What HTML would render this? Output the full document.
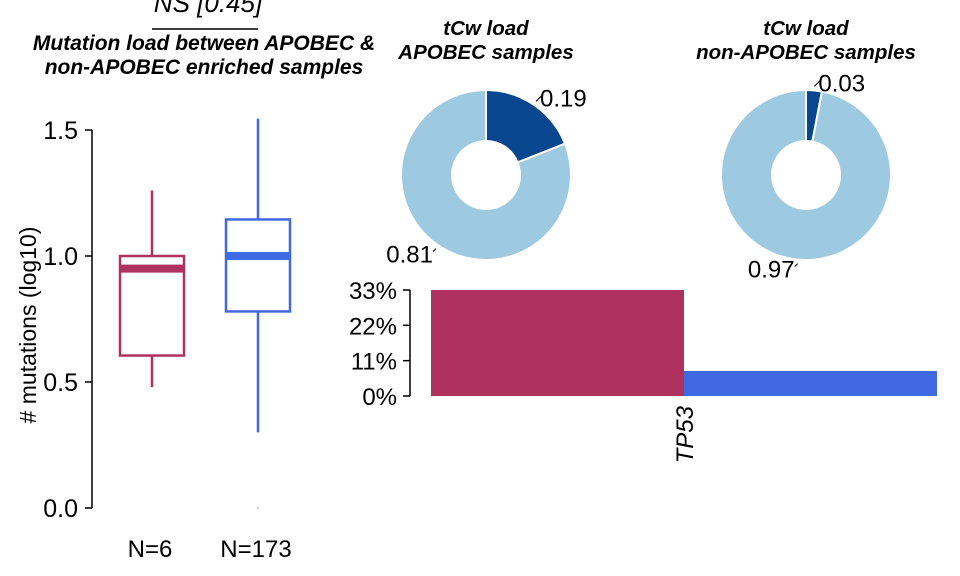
<!DOCTYPE html>
<html><head><meta charset="utf-8"><style>
body{margin:0;background:#fff;}
svg{display:block;font-family:"Liberation Sans",Arial,sans-serif;}
</style></head><body>
<svg id="c" width="960" height="576" viewBox="0 0 960 576"></svg>
<script>
const boxGroups=["N=6","N=173"];
const boxColors=["#AE315E","#4169E1"];
const boxWhiskerHigh=[1.26,1.545];
const boxQ3=[1.0,1.145];
const boxMedian=[0.95,1.0];
const boxQ1=[0.605,0.78];
const boxWhiskerLow=[0.48,0.30];
const yTicks=[0.0,0.5,1.0,1.5];
const yTickLabels=["0.0","0.5","1.0","1.5"];
const pieTitles=[["tCw load","APOBEC samples"],["tCw load","non-APOBEC samples"]];
const pieDark=[0.19,0.03];
const barCategories=["TP53"];
const barApobec=[33];
const barNonApobec=[7.8];
const barTicks=[0,11,22,33];

const svg=document.getElementById('c');
const NS="http://www.w3.org/2000/svg";
function mk(tag,attrs,parent){const e=document.createElementNS(NS,tag);for(const k in attrs)e.setAttribute(k,attrs[k]);(parent||svg).appendChild(e);return e;}
function txt(s,attrs,parent){const e=mk('text',attrs,parent);e.textContent=s;return e;}

// Box plot
const y0=508,yS=252;const Y=v=>y0-v*yS;
const X=i=>152+i*106;
let t=txt("NS [0.45]",{x:208,y:12,'font-size':26,'font-style':'italic','text-anchor':'middle'});

let l=mk('line',{x1:152,x2:258,y1:29,y2:29,stroke:'#000','stroke-width':1.5});

t=txt("Mutation load between APOBEC &",{x:204,y:50,'font-size':21,'font-weight':'bold','font-style':'italic','text-anchor':'middle'});

t=txt("non-APOBEC enriched samples",{x:204,y:74,'font-size':21,'font-weight':'bold','font-style':'italic','text-anchor':'middle'});

l=mk('line',{x1:92,x2:92,y1:Y(1.5),y2:Y(0),stroke:'#000','stroke-width':1.5});

yTicks.forEach((v,i)=>{
 const tk=mk('line',{x1:85,x2:92,y1:Y(v),y2:Y(v),stroke:'#000','stroke-width':1.5});
 
 const tl=txt(yTickLabels[i],{x:78,y:Y(v)+9,'font-size':25,'text-anchor':'end'});
 
});
t=txt("# mutations (log10)",{x:0,y:0,'font-size':23,'text-anchor':'middle',transform:'translate(36,325) rotate(-90)'});

boxGroups.forEach((g,i)=>{
 const cx=X(i),c=boxColors[i];
 const w=mk('line',{x1:cx,x2:cx,y1:Y(boxWhiskerHigh[i]),y2:Y(boxQ3[i]),stroke:c,'stroke-width':2.5});
 
 const w2=mk('line',{x1:cx,x2:cx,y1:Y(boxQ1[i]),y2:Y(boxWhiskerLow[i]),stroke:c,'stroke-width':2.5});
 
 const b=mk('rect',{x:cx-32,y:Y(boxQ3[i]),width:64,height:Y(boxQ1[i])-Y(boxQ3[i]),fill:'#fff',stroke:c,'stroke-width':2.5});
 
 const m=mk('line',{x1:cx-32,x2:cx+32,y1:Y(boxMedian[i]),y2:Y(boxMedian[i]),stroke:c,'stroke-width':8});
 
 const n=txt(g,{x:cx-2,y:557,'font-size':24,'text-anchor':'middle'});
 
});
const od=mk('circle',{cx:X(1),cy:Y(0),r:1,fill:'#bbb'});


// Pies
const pieCx=[486,806],pieCy=175,R=85,r=34;
function arc(cx,cy,a0,a1){
 const p=(a,rr)=>[cx+rr*Math.sin(a),cy-rr*Math.cos(a)];
 const lg=(a1-a0)>Math.PI?1:0;
 const [x1,y1]=p(a0,R),[x2,y2]=p(a1,R),[x3,y3]=p(a1,r),[x4,y4]=p(a0,r);
 return `M${x1},${y1}A${R},${R} 0 ${lg} 1 ${x2},${y2}L${x3},${y3}A${r},${r} 0 ${lg} 0 ${x4},${y4}Z`;
}
pieDark.forEach((d,i)=>{
 const cx=pieCx[i];
 const g=mk('g',{});
 pieTitles[i].forEach((s,j)=>{
  const tt=txt(s,{x:cx,y:35+j*24,'font-size':20.5,'font-weight':'bold','font-style':'italic','text-anchor':'middle'},g);
  
 });
 const a=d*2*Math.PI;
 const s1=mk('path',{d:arc(cx,pieCy,0,a),fill:'#08468F',stroke:'#fff','stroke-width':2},g);
 
 const s2=mk('path',{d:arc(cx,pieCy,a,2*Math.PI),fill:'#9ECAE1',stroke:'#fff','stroke-width':2},g);
 
 const am=a/2,bm=a+(2*Math.PI-a)/2;
 const lx=cx+(R+4)*Math.sin(am),ly=pieCy-(R+4)*Math.cos(am);
 const l1=mk('line',{x1:lx,y1:ly,x2:lx+6,y2:ly-6,stroke:'#000'},g);
 const t1=txt(d.toFixed(2),{x:lx+4,y:ly+5,'font-size':24},g);
 
 const bx=cx+(R+4)*Math.sin(bm),by=pieCy-(R+4)*Math.cos(bm);
 const l2=mk('line',{x1:bx,y1:by,x2:bx-3,y2:by+3,stroke:'#000'},g);
 const t2=txt((1-d).toFixed(2),{x:bx-3,y:by+14,'font-size':24,'text-anchor':'end'},g);
 
});

// Bars
const by0=396,bS=106/33;const BY=v=>by0-v*bS;
l=mk('line',{x1:410,x2:410,y1:BY(33),y2:BY(0),stroke:'#000','stroke-width':1.5});

barTicks.forEach(v=>{
 const tk=mk('line',{x1:403,x2:410,y1:BY(v),y2:BY(v),stroke:'#000','stroke-width':1.5});
 
 const tl=txt(v+"%",{x:397,y:BY(v)+9,'font-size':24,'text-anchor':'end'});
 
});
barCategories.forEach((c,i)=>{
 const x0=431+i*506;
 const r1=mk('rect',{x:x0,y:BY(barApobec[i]),width:253,height:BY(0)-BY(barApobec[i]),fill:'#AE315E'});
 
 const r2=mk('rect',{x:x0+253,y:BY(barNonApobec[i]),width:253,height:BY(0)-BY(barNonApobec[i]),fill:'#4169E1'});
 
 const tl=txt(c,{x:0,y:0,'font-size':24,'font-style':'italic','text-anchor':'end',transform:`translate(${x0+262},406) rotate(-90)`});
 
});
</script>
</body></html>
